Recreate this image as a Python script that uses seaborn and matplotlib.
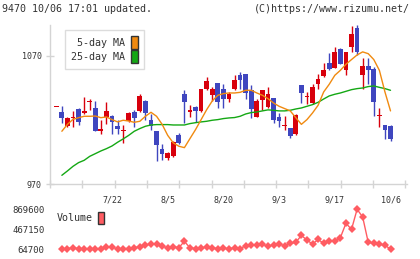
import matplotlib
matplotlib.use("Agg")
import matplotlib.pyplot as plt
import numpy as np
import pandas as pd
import seaborn as sns
from matplotlib.patches import Patch

# %% Data (price in yen, one row per trading day)
opens = [1029.8, 1026.0, 1015.1, 1021.7, 1028.9, 1025.3, 1034.4, 1029.7, 1011.4, 1022.4,
         1022.9, 1015.1, 1011.1, 1019.3, 1026.3, 1027.0, 1034.9, 1019.7, 1011.2, 997.1,
         990.6, 991.6, 1008.1, 1040.0, 1026.0, 1030.2, 1027.0, 1044.0, 1039.5, 1048.7,
         1044.0, 1036.2, 1044.0, 1054.9, 1055.7, 1043.2, 1022.4, 1035.4, 1030.2, 1037.5,
         1022.4, 1015.3, 1013.5, 1008.8, 1047.1, 1038.0, 1033.3, 1047.9, 1054.2, 1064.6,
         1060.4, 1075.5, 1058.8, 1077.0, 1091.9, 1054.9, 1061.9, 1059.6, 1022.9, 1016.4,
         1015.1]
highs = [1030.0, 1030.7, 1022.4, 1027.0, 1029.7, 1038.0, 1036.7, 1034.9, 1019.7, 1034.1,
         1023.7, 1019.7, 1015.8, 1026.3, 1027.6, 1040.0, 1035.4, 1024.9, 1011.2, 1001.5,
         995.0, 1003.6, 1009.9, 1043.2, 1031.5, 1030.7, 1044.5, 1053.6, 1045.8, 1048.7,
         1048.4, 1041.9, 1054.9, 1057.5, 1055.7, 1047.1, 1036.7, 1043.2, 1045.8, 1037.5,
         1025.8, 1022.9, 1013.5, 1024.9, 1047.1, 1041.9, 1047.9, 1055.7, 1064.6, 1072.4,
         1077.0, 1076.0, 1072.9, 1093.2, 1094.0, 1068.5, 1068.5, 1061.4, 1029.7, 1016.4,
         1016.4]
lows = [1029.8, 1017.7, 1014.6, 1014.6, 1016.4, 1025.0, 1028.1, 1011.4, 1008.8, 1016.6,
        1009.3, 1009.3, 1002.0, 1018.5, 1014.6, 1026.3, 1019.7, 1012.4, 988.0, 989.0,
        989.0, 991.1, 1001.0, 1017.7, 1022.4, 1018.5, 1026.3, 1043.2, 1034.9, 1029.7,
        1029.7, 1034.1, 1043.2, 1044.5, 1036.2, 1021.6, 1022.4, 1027.6, 1029.7, 1017.7,
        1014.6, 1012.0, 1005.7, 1008.0, 1033.3, 1032.3, 1032.8, 1044.5, 1053.6, 1058.8,
        1060.4, 1063.8, 1054.9, 1072.9, 1071.0, 1044.0, 1047.9, 1023.1, 1014.6, 1005.2,
        1003.6]
closes = [1030.0, 1021.6, 1021.9, 1022.1, 1018.5, 1027.0, 1034.9, 1011.4, 1013.0, 1027.0,
          1018.2, 1013.0, 1011.7, 1025.5, 1021.6, 1038.5, 1025.5, 1015.1, 1000.2, 993.7,
          994.0, 1002.8, 1002.0, 1034.1, 1027.6, 1026.8, 1044.0, 1050.2, 1044.0, 1034.1,
          1036.4, 1040.1, 1051.0, 1051.0, 1041.1, 1028.6, 1034.6, 1043.2, 1040.6, 1020.0,
          1019.3, 1015.8, 1007.3, 1023.6, 1041.1, 1038.5, 1045.5, 1051.8, 1058.9, 1060.1,
          1072.9, 1063.8, 1072.9, 1086.9, 1073.1, 1061.9, 1058.8, 1034.1, 1023.4, 1012.2,
          1005.2]

# moving averages and volume start on the second day
ma5 = [1011.2, 1016.6, 1020.5, 1021.8, 1022.9, 1022.9, 1023.1, 1021.8, 1022.4, 1020.3,
       1018.5, 1019.8, 1019.2, 1018.2, 1019.0, 1022.9, 1026.0, 1022.9, 1016.6, 1008.0,
       1002.1, 999.5, 998.4, 1005.5, 1012.5, 1020.3, 1028.1, 1034.9, 1039.3, 1040.6,
       1041.1, 1041.1, 1041.6, 1043.2, 1043.2, 1041.1, 1039.3, 1036.7, 1033.3, 1030.7,
       1028.9, 1027.1, 1021.8, 1016.6, 1020.3, 1025.5, 1031.5, 1041.9, 1047.9, 1054.9,
       1058.8, 1063.5, 1067.2, 1070.8, 1073.2, 1071.8, 1067.2, 1058.8, 1041.9, 1027.1]
ma25 = [976.8, 980.2, 983.8, 986.7, 988.5, 991.6, 993.7, 995.8, 997.6, 999.7,
        1002.6, 1005.2, 1008.0, 1011.2, 1013.3, 1015.1, 1016.1, 1016.4, 1016.4, 1016.4,
        1016.1, 1016.1, 1016.1, 1017.2, 1017.9, 1018.5, 1019.0, 1019.8, 1020.3, 1021.1,
        1021.6, 1021.9, 1022.9, 1024.7, 1025.8, 1026.3, 1027.1, 1027.9, 1027.6, 1027.1,
        1027.1, 1027.6, 1028.6, 1029.4, 1030.7, 1032.0, 1033.8, 1036.4, 1038.8, 1040.1,
        1041.1, 1042.4, 1043.7, 1044.5, 1045.0, 1046.1, 1046.6, 1045.5, 1044.5, 1043.2]
volume = [68000, 80000, 92000, 80000, 78000, 78000, 78000, 80000, 112000, 115000,
          66000, 80000, 80000, 92000, 118000, 150000, 172000, 178000, 140000, 82000,
          112000, 98000, 225000, 92000, 80000, 92000, 112000, 92000, 78000, 92000,
          70000, 100000, 80000, 135000, 160000, 150000, 162000, 130000, 150000, 180000,
          128000, 185000, 205000, 345000, 250000, 170000, 262000, 185000, 240000, 238000,
          300000, 588000, 466000, 869600, 715000, 205000, 185000, 165000, 150000, 64700]

date_labels = ["7/22", "8/5", "8/20", "9/3", "9/17", "10/6"]
date_index = [10, 20, 30, 40, 50, 60]
price_ticks = [970, 1070]

# %% Build tables
prices = pd.DataFrame({"open": opens, "high": highs, "low": lows, "close": closes})
prices["day"] = np.arange(len(prices))
prices["up"] = prices["close"] >= prices["open"]

lines = pd.DataFrame({"day": np.arange(1, len(prices)), "ma5": ma5, "ma25": ma25, "volume": volume})

UP_COLOR = "#d8000c"
DOWN_COLOR = "#3f46bf"
MA5_COLOR = "#f08a10"
MA25_COLOR = "#14a814"
VOL_COLOR = "#ff5c62"
GRID_COLOR = "#d4d4d4"
TEXT_COLOR = "#333333"

sns.set_style("white")
plt.rcParams["font.family"] = ["DejaVu Sans Mono"]
plt.rcParams["text.color"] = TEXT_COLOR

W, H = 420, 259
fig = plt.figure(figsize=(W / 100, H / 100), dpi=100)

ax = fig.add_axes([50 / W, 1 - 184 / H, 357 / W, 159 / H])
axv = fig.add_axes([50 / W, 1 - 249.3 / H, 357 / W, 40 / H], sharex=ax)

# %% Candles
for up, color in [(True, UP_COLOR), (False, DOWN_COLOR)]:
    part = prices[prices["up"] == up]
    ax.vlines(part["day"], part["low"], part["high"], color=color, lw=1, zorder=2)
    body_low = part[["open", "close"]].min(axis=1)
    body_h = (part["close"] - part["open"]).abs().clip(lower=0.8)
    ax.bar(part["day"], body_h, bottom=body_low, width=0.85, color=color, linewidth=0, zorder=3)

sns.lineplot(data=lines, x="day", y="ma25", ax=ax, color=MA25_COLOR, lw=1, zorder=4)
sns.lineplot(data=lines, x="day", y="ma5", ax=ax, color=MA5_COLOR, lw=1, zorder=4)

ax.set_xlim(-1.13, 62.96)
ax.set_ylim(970, 1094.2)
ax.set_xlabel("")
ax.set_ylabel("")

for side in ["top", "right"]:
    ax.spines[side].set_visible(False)
for side in ["left", "bottom"]:
    ax.spines[side].set_color(GRID_COLOR)
    ax.spines[side].set_linewidth(1)

ax.set_yticks(price_ticks)
ax.set_yticklabels([str(v) for v in price_ticks])
ax.tick_params(axis="y", direction="inout", length=6, width=1, color=GRID_COLOR,
               labelsize=6, labelcolor=TEXT_COLOR, pad=3, left=True)

ax.set_xticks(date_index)
ax.set_xticklabels(date_labels)
ax.set_xticks(-1.13 + 5.8 * np.arange(12), minor=True)
ax.tick_params(axis="x", which="major", length=0, labelsize=6, labelcolor=TEXT_COLOR, pad=8)
ax.tick_params(axis="x", which="minor", direction="inout", length=6, width=1,
               color=GRID_COLOR, bottom=True)

handles = [Patch(facecolor=MA5_COLOR, edgecolor="#333333", lw=1),
           Patch(facecolor=MA25_COLOR, edgecolor="#333333", lw=1)]
leg = ax.legend(handles, [" 5-day MA", "25-day MA"], loc="upper left",
                bbox_to_anchor=(65 / W, 1 - 30 / H), bbox_transform=fig.transFigure,
                markerfirst=False, fontsize=7.2, handlelength=0.7, handleheight=1.55,
                handletextpad=0.6, labelspacing=0.15, borderpad=0.6, borderaxespad=0,
                frameon=True, fancybox=False)
leg.get_frame().set_edgecolor(GRID_COLOR)
leg.get_frame().set_linewidth(1)
for t in leg.get_texts():
    t.set_color(TEXT_COLOR)

# %% Volume
sns.lineplot(data=lines, x="day", y="volume", ax=axv, color=VOL_COLOR, lw=1,
             marker="D", markersize=4, markeredgewidth=0, clip_on=False)
axv.set_ylim(64700, 869600)
axv.set_xlabel("")
axv.set_ylabel("")
for side in axv.spines:
    axv.spines[side].set_visible(False)
vol_ticks = [64700, 467150, 869600]
axv.set_yticks(vol_ticks)
axv.set_yticklabels([str(v) for v in vol_ticks])
axv.tick_params(axis="y", length=0, labelsize=6.5, labelcolor=TEXT_COLOR, pad=4)
axv.tick_params(axis="x", which="both", length=0, labelbottom=False)
axv.patch.set_alpha(0)

vleg = axv.legend([Patch(facecolor=VOL_COLOR, edgecolor="#333333", lw=1)], ["Volume"],
                  loc="upper left", bbox_to_anchor=(57 / W, 1 - 212 / H),
                  bbox_transform=fig.transFigure, markerfirst=False, fontsize=7.2,
                  handlelength=0.6, handleheight=1.45, handletextpad=0.5,
                  borderpad=0, borderaxespad=0, frameon=False)
for t in vleg.get_texts():
    t.set_color(TEXT_COLOR)

# %% Header
fig.text(2 / W, 1 - 8.5 / H, "9470 10/06 17:01 updated.", fontsize=7.2, ha="left", va="center")
fig.text(410 / W, 1 - 8.5 / H, "(C)https://www.rizumu.net/", fontsize=7.2, ha="right", va="center")

fig.savefig("out.png", dpi=100)
